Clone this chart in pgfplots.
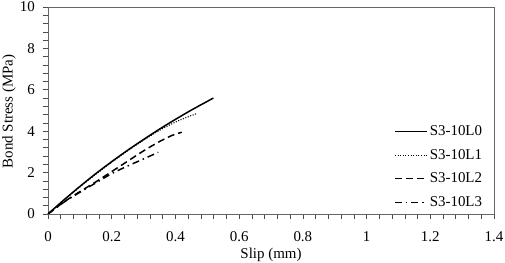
\documentclass[border=0pt]{standalone}
\usepackage{fontspec}
\setmainfont{Liberation Serif}
\usepackage{pgfplots}
\pgfplotsset{compat=1.18}
\begin{document}
\fontsize{15}{18}\selectfont
\begin{tikzpicture}
\begin{axis}[
  name=ax,
  scale only axis,
  width=446bp, height=207bp,
  xmin=0, xmax=1.4, ymin=0, ymax=10,
  xtick={0,0.2,...,1.4},
  ytick={0,2,...,10},
  xticklabels={0,0.2,0.4,0.6,0.8,1,1.2,1.4},
  minor x tick num=4,
  minor y tick num=4,
  tick pos=left,
  tick align=outside,
  major tick length=5bp,
  minor tick length=5bp,
  every tick/.style={black!70, line width=0.6pt},
  axis line style={black!60, line width=0.7pt},
  /pgf/number format/assume math mode=true,
  ticklabel style={font=\fontsize{15}{18}\selectfont, inner sep=0pt},
  xticklabel style={yshift=-12bp},
  yticklabel style={xshift=-8bp},
  xlabel={Slip (mm)},
  ylabel={Bond Stress (MPa)},
  every axis x label/.style={at={(axis description cs:0.5,0)}, anchor=north, yshift=-34bp, inner sep=0pt, font=\fontsize{15}{18}\selectfont},
  every axis y label/.style={at={(axis description cs:0,0.5)}, xshift=-32bp, yshift=-1bp, rotate=90, anchor=south, inner sep=0pt, font=\fontsize{15}{18}\selectfont},
  legend style={at={(0.776,0.438)}, anchor=north west, draw=none, fill=none,
    font=\fontsize{15}{18}\selectfont, row sep=7.4bp, inner sep=0pt,
    legend cell align=left},
  legend image code/.code={\draw[#1] (0bp,0bp) -- (32bp,0bp);},
]
\addplot[black, line width=1.5pt, smooth] coordinates {
(0,0) (0.05,0.68) (0.1,1.33) (0.15,1.95) (0.2,2.53) (0.25,3.08) (0.3,3.6) (0.35,4.1) (0.4,4.57) (0.45,5.02) (0.519,5.6)};
\addlegendentry{S3-10L0}
\addplot[black, line width=1.1pt, dash pattern=on 1pt off 1.6pt, smooth] coordinates {
(0,0) (0.05,0.67) (0.1,1.31) (0.15,1.92) (0.2,2.5) (0.25,3.05) (0.3,3.57) (0.35,4.04) (0.4,4.44) (0.44,4.7) (0.467,4.85)};
\addlegendentry{S3-10L1}
\addplot[black, line width=1.5pt, dash pattern=on 7pt off 4pt, smooth] coordinates {
(0,0) (0.05,0.58) (0.1,1.08) (0.15,1.55) (0.2,2.05) (0.25,2.55) (0.3,3.05) (0.35,3.5) (0.39,3.8) (0.42,3.95)};
\addlegendentry{S3-10L2}
\addplot[black, line width=1.5pt, dash pattern=on 7pt off 4pt on 1.5pt off 4pt, smooth] coordinates {
(0,0) (0.05,0.57) (0.1,1.05) (0.15,1.5) (0.2,1.95) (0.25,2.32) (0.3,2.66) (0.346,2.98)};
\addlegendentry{S3-10L3}
\end{axis}
\pgfresetboundingbox
\path ([shift={(-48bp,-49bp)}]ax.south west) rectangle ([shift={(11bp,7bp)}]ax.north east);
\end{tikzpicture}
\end{document}
